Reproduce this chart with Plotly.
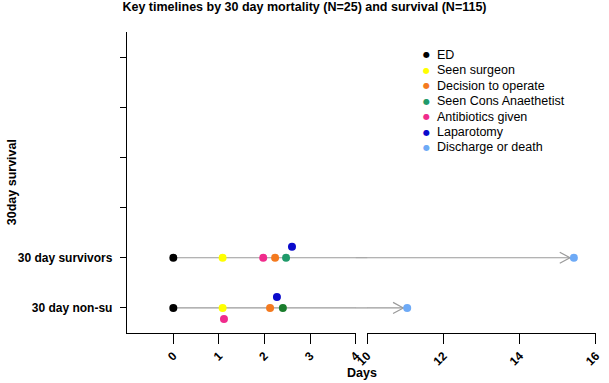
import plotly.graph_objects as go

# ---------------- data ----------------
ROWS = ["30 day non-su", "30 day survivors"]          # plotted at y = 1, 2
EVENTS = ["ED", "Seen surgeon", "Decision to operate", "Seen Cons Anaethetist",
          "Antibiotics given", "Laparotomy", "Discharge or death"]
# days from ED arrival, per row: [non-survivors, survivors]
ED_DAYS = [0.0, 0.0]
SEEN_SURGEON_DAYS = [1.08, 1.08]
DECISION_DAYS = [2.12, 2.23]
CONS_ANAES_DAYS = [2.40, 2.47]
ANTIBIOTICS_DAYS = [1.11, 1.97]
LAPAROTOMY_DAYS = [2.27, 2.60]
DISCHARGE_DAYS = [11.05, 15.42]
X_TICKS_LOW = [0, 1, 2, 3, 4]
X_TICKS_HIGH = [10, 12, 14, 16]
Y_TICKS = [1, 2, 3, 4, 5, 6]

EVENT_DAYS = [ED_DAYS, SEEN_SURGEON_DAYS, DECISION_DAYS, CONS_ANAES_DAYS,
              ANTIBIOTICS_DAYS, LAPAROTOMY_DAYS, DISCHARGE_DAYS]

# ---------------- style ----------------
FONT = "Liberation Sans, Arial, sans-serif"
COLORS = {
    "ED": ["#000000", "#000000"],
    "Seen surgeon": ["#ffff00", "#ffff00"],
    "Decision to operate": ["#f47a1f", "#f47a1f"],
    "Seen Cons Anaethetist": ["#1a7d2c", "#1f9a6a"],
    "Antibiotics given": ["#f02b8c", "#f02b8c"],
    "Laparotomy": ["#0a0acc", "#0a0acc"],
    "Discharge or death": ["#6eaaf6", "#6eaaf6"],
}
LEGEND_COLORS = ["#000000", "#ffff00", "#f47a1f", "#1f9a6a", "#f02b8c", "#0a0acc", "#6eaaf6"]
# vertical nudges (in row units) to avoid overlapping dots
JIT = 0.22
OFFSETS = {"Laparotomy": [JIT, JIT], "Antibiotics given": [-JIT, 0.0]}
LINE_COLOR = "#9a9a9a"
W, H = 609, 383
ML, MR, MT, MB = 127, 6, 32, 50
PW, PH = W - ML - MR, H - MT - MB
BREAK_L, BREAK_R = 359.3, 370.7      # pixel x where the axis break starts / ends
D1 = [0, (BREAK_L - ML) / PW]
D2 = [(BREAK_R - ML) / PW, 1]
PX_PER_DAY_LOW = (BREAK_L - 174.0) / 4.0
X1_RANGE = [-(174.0 - ML) / PX_PER_DAY_LOW, 4.0001]
X2_RANGE = [9.9999, 16.0]

# arrow-head geometry (days / row units) in the upper segment
ARROW_DX, ARROW_DY, ARROW_GAP = 0.27, 0.11, 0.10


def px(xp):
    return (xp - ML) / PW


def py(yp):
    return (MT + PH - yp) / PH


fig = go.Figure()
row_y = [i + 1 for i in range(len(ROWS))]

# timeline lines (drawn in both segments, clipped by each subplot)
for r, y in enumerate(row_y):
    for xa in ("x", "x2"):
        fig.add_trace(go.Scatter(
            x=[ED_DAYS[r], DISCHARGE_DAYS[r]], y=[y, y], xaxis=xa, yaxis="y",
            mode="lines", line=dict(color=LINE_COLOR, width=1.2),
            showlegend=False, hoverinfo="skip"))
    # connector across the axis break
    fig.add_shape(type="line", xref="paper", yref="y", x0=D1[1], x1=D2[0],
                  y0=y, y1=y, line=dict(color=LINE_COLOR, width=1.2), layer="below")

# arrow heads at discharge
ax_x, ax_y = [], []
for r, y in enumerate(row_y):
    tip = DISCHARGE_DAYS[r] - ARROW_GAP
    ax_x += [tip - ARROW_DX, tip, tip - ARROW_DX, None]
    ax_y += [y + ARROW_DY, y, y - ARROW_DY, None]
fig.add_trace(go.Scatter(x=ax_x, y=ax_y, xaxis="x2", yaxis="y", mode="lines",
                         line=dict(color=LINE_COLOR, width=1.2),
                         showlegend=False, hoverinfo="skip"))

# event markers
for ev, days in zip(EVENTS, EVENT_DAYS):
    offs = OFFSETS.get(ev, [0.0, 0.0])
    for xa, test in (("x", lambda d: d <= 4), ("x2", lambda d: d >= 10)):
        xs, ys, cs = [], [], []
        for r, d in enumerate(days):
            if test(d):
                xs.append(d)
                ys.append(row_y[r] + offs[r])
                cs.append(COLORS[ev][r])
        if xs:
            fig.add_trace(go.Scatter(
                x=xs, y=ys, xaxis=xa, yaxis="y", mode="markers", name=ev,
                marker=dict(color=cs, size=8, line=dict(width=0)),
                showlegend=False, cliponaxis=False))

axis_common = dict(showline=True, linecolor="black", linewidth=1.3, ticks="outside",
                   tickcolor="black", tickwidth=1.3, showgrid=False, zeroline=False,
                   tickfont=dict(family=FONT, size=12, color="black", weight="bold"))

fig.update_layout(
    width=W, height=H, margin=dict(l=ML, r=MR, t=MT, b=MB),
    paper_bgcolor="white", plot_bgcolor="white", showlegend=False,
    font=dict(family=FONT, color="black"),
    title=dict(text="Key timelines by 30 day mortality (N=25) and survival (N=115)",
               x=0.5, xref="container", xanchor="center", y=1 - 7 / H, yanchor="middle",
               font=dict(family=FONT, size=12.5, color="black", weight="bold")),
    xaxis=dict(domain=D1, range=X1_RANGE, tickvals=X_TICKS_LOW, ticklen=10,
               tickangle=-45, anchor="y", **axis_common),
    xaxis2=dict(domain=D2, range=X2_RANGE, tickvals=X_TICKS_HIGH, ticklen=10,
                tickangle=-45, anchor="y", **axis_common),
    yaxis=dict(range=[0.5, 6.5], tickvals=Y_TICKS,
               ticktext=ROWS + [""] * (len(Y_TICKS) - len(ROWS)),
               ticklen=6, anchor="x", ticklabelstandoff=5, **axis_common),
)

# axis titles
fig.add_annotation(text="Days", xref="paper", yref="paper", x=px(365), y=py(373),
                   xanchor="center", yanchor="middle", showarrow=False,
                   font=dict(family=FONT, size=12.5, color="black", weight="bold"))
fig.add_annotation(text="30day survival", xref="paper", yref="paper", x=px(10), y=py(182.5),
                   xanchor="center", yanchor="middle", textangle=-90, showarrow=False,
                   font=dict(family=FONT, size=12.5, color="black", weight="bold"))

# legend (drawn as annotations to match the compact row spacing)
for i, (ev, col) in enumerate(zip(EVENTS, LEGEND_COLORS)):
    yc = py(55 + 15.4 * i)
    fig.add_annotation(text="●", xref="paper", yref="paper", x=px(430.7), y=yc,
                       xanchor="center", yanchor="middle", showarrow=False,
                       font=dict(family="DejaVu Sans", size=8, color=col))
    fig.add_annotation(text=ev, xref="paper", yref="paper", x=px(439.7), y=yc,
                       xanchor="left", yanchor="middle", showarrow=False,
                       font=dict(family=FONT, size=12.5, color="black"))

# place the figure at the page's top-left corner (no default body margin)
fig.write_html("out.html", config={"displayModeBar": False},
               post_script="document.body.style.margin='0';document.body.style.overflow='hidden';")
